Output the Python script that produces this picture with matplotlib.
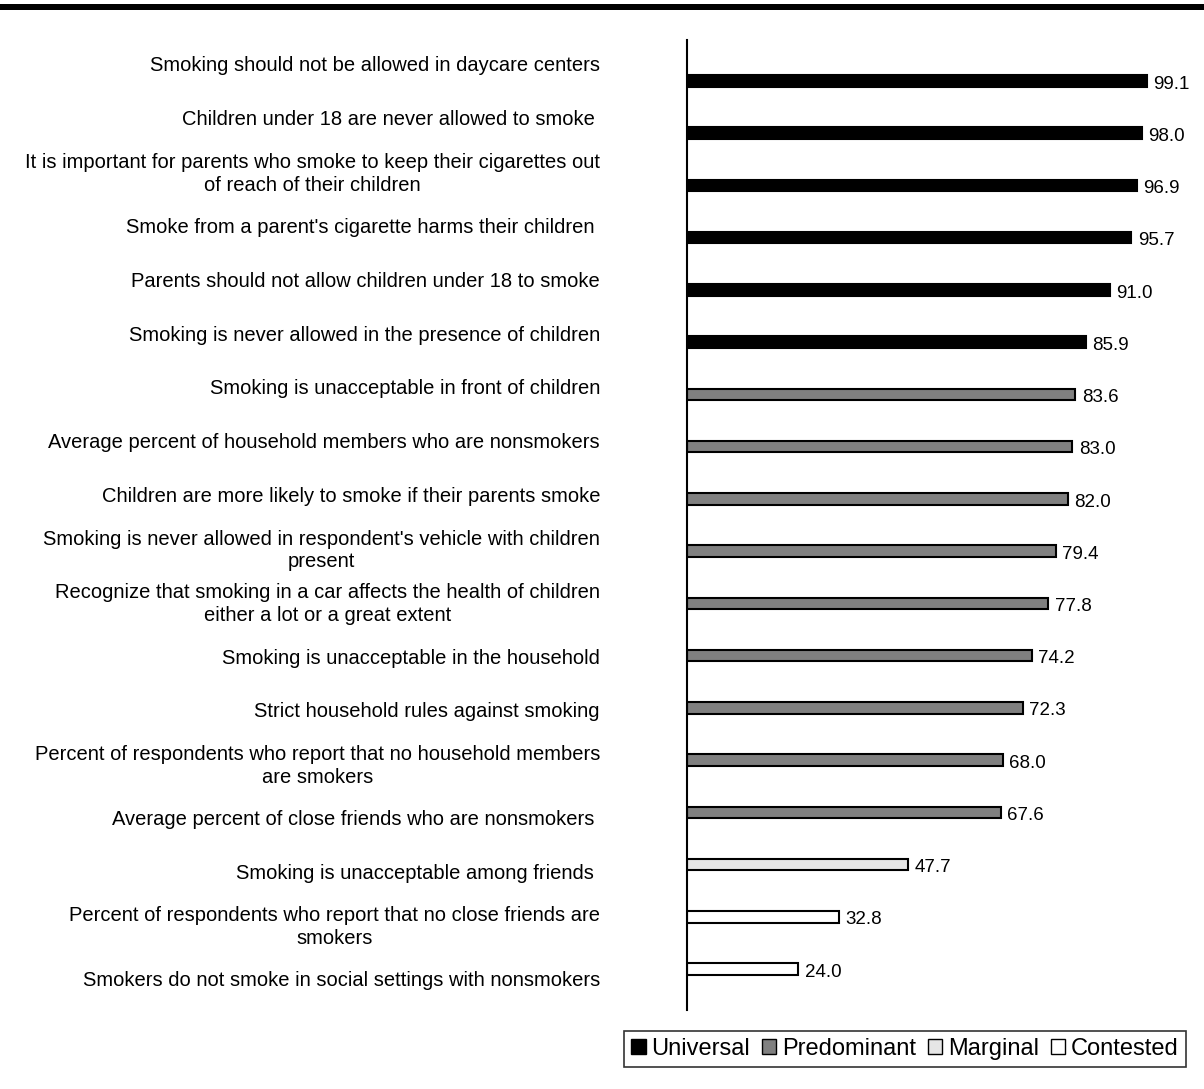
import matplotlib
matplotlib.use("Agg")
import matplotlib.pyplot as plt
from matplotlib.patches import Patch, Rectangle
import matplotlib.transforms as mtransforms

labels = [
    "Smoking should not be allowed in daycare centers",
    "Children under 18 are never allowed to smoke ",
    "It is important for parents who smoke to keep their cigarettes out\nof reach of their children",
    "Smoke from a parent's cigarette harms their children ",
    "Parents should not allow children under 18 to smoke",
    "Smoking is never allowed in the presence of children",
    "Smoking is unacceptable in front of children",
    "Average percent of household members who are nonsmokers",
    "Children are more likely to smoke if their parents smoke",
    "Smoking is never allowed in respondent's vehicle with children\npresent",
    "Recognize that smoking in a car affects the health of children\neither a lot or a great extent",
    "Smoking is unacceptable in the household",
    "Strict household rules against smoking",
    "Percent of respondents who report that no household members\nare smokers",
    "Average percent of close friends who are nonsmokers ",
    "Smoking is unacceptable among friends ",
    "Percent of respondents who report that no close friends are\nsmokers",
    "Smokers do not smoke in social settings with nonsmokers",
]
values = [99.1, 98.0, 96.9, 95.7, 91.0, 85.9, 83.6, 83.0, 82.0, 79.4,
          77.8, 74.2, 72.3, 68.0, 67.6, 47.7, 32.8, 24.0]
categories = ["Universal"] * 6 + ["Predominant"] * 9 + ["Marginal"] + ["Contested"] * 2
legend_names = ["Universal", "Predominant", "Marginal", "Contested"]
colors = {"Universal": "#000000", "Predominant": "#808080",
          "Marginal": "#e6e6e6", "Contested": "#ffffff"}

plt.rcParams['font.family'] = ['Liberation Sans', 'DejaVu Sans']

W, H = 1204, 1089
fig = plt.figure(figsize=(W / 100, H / 100), dpi=100)

# top thick rule
fig.patches.append(Rectangle((0, 1 - 10 / H), 1, 6 / H, transform=fig.transFigure,
                             facecolor="black", edgecolor="none"))

top_px, bot_px = 40, 1010
ax = fig.add_axes([687 / W, 1 - bot_px / H, 520 / W, (bot_px - top_px) / H])
n = len(values)
ypos = list(range(n))
bars = ax.barh(ypos, values, height=0.22,
               color=[colors[c] for c in categories], edgecolor="black", linewidth=1.5)
ax.set_xlim(0, 112)
ax.set_ylim(n - 1 + 0.785, -0.785)
for s in ["top", "right", "bottom"]:
    ax.spines[s].set_visible(False)
ax.spines["left"].set_linewidth(1.5)
ax.set_xticks([])
ax.set_yticks([])
for y, v in zip(ypos, values):
    ax.text(v + 1.4, y + 0.06, f"{v:.1f}", va="center", ha="left", fontsize=13.5)

# label column
axl = fig.add_axes([0, 1 - bot_px / H, 600 / W, (bot_px - top_px) / H])
axl.axis("off")
axl.set_ylim(17.54, -0.483)
tr = mtransforms.blended_transform_factory(axl.transAxes, axl.transData)
for y, lab in zip(ypos, labels):
    axl.text(1.0, y, lab, transform=tr, ha="right", va="center",
             multialignment="center", fontsize=14.5, linespacing=1.25)

handles = [Patch(facecolor=colors[c], edgecolor="black", linewidth=1.0, label=c)
           for c in legend_names]
leg = fig.legend(handles=handles, loc="center", bbox_to_anchor=(905 / W, 1 - 1049 / H),
                 ncol=4, frameon=True, fancybox=False, edgecolor="black", fontsize=17,
                 handlelength=0.6, handleheight=0.6, handletextpad=0.25, columnspacing=0.5,
                 borderpad=0.3, borderaxespad=0)
leg.get_frame().set_linewidth(1.2)

fig.savefig("out.png", dpi=100, facecolor="white")
